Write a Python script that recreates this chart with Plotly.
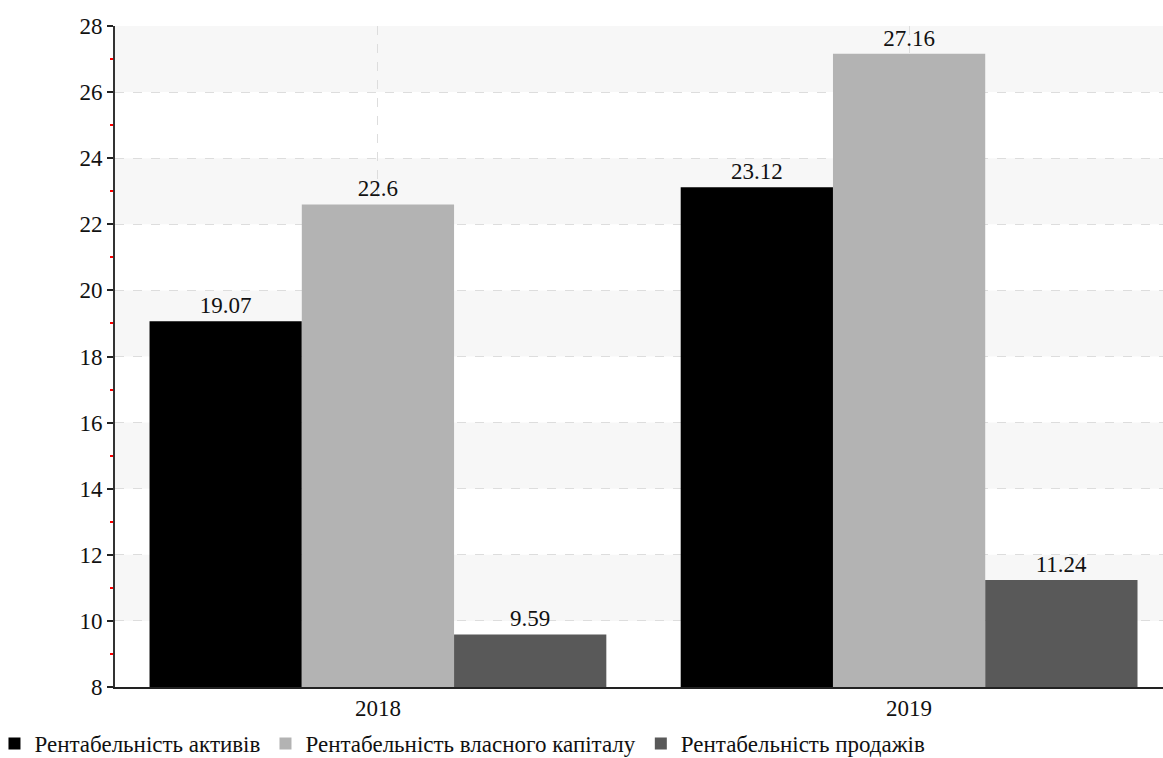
import plotly.graph_objects as go

years = ["2018", "2019"]
series_names = ["Рентабельність активів", "Рентабельність власного капіталу", "Рентабельність продажів"]
assets = [19.07, 23.12]
equity = [22.6, 27.16]
sales = [9.59, 11.24]
colors = ["#000000", "#b3b3b3", "#595959"]

FONT = "'Liberation Serif', 'Times New Roman', 'DejaVu Serif', serif"

fig = go.Figure()
xpos = list(range(len(years)))
for name, vals, col in zip(series_names, [assets, equity, sales], colors):
    fig.add_trace(go.Bar(
        x=xpos, y=vals, name=name, marker=dict(color=col, line=dict(width=0)),
        text=[f"{v:g}" for v in vals], textposition="outside",
        textfont=dict(family=FONT, size=23, color="#111"),
        cliponaxis=False,
    ))

# alternating background bands
shapes = []
for lo in range(10, 28, 4):
    shapes.append(dict(type="rect", xref="paper", yref="y", x0=0, x1=1, y0=lo, y1=lo + 2,
                       fillcolor="#f7f7f7", line=dict(width=0), layer="below"))

fig.update_layout(
    width=1163, height=758,
    margin=dict(l=115, r=0, t=26, b=71, autoexpand=False),
    paper_bgcolor="white", plot_bgcolor="white",
    barmode="group", bargap=0.14, bargroupgap=0,
    font=dict(family=FONT, size=22, color="#111"),
    shapes=shapes,
    showlegend=True,
    legend=dict(orientation="h", x=-0.115, xanchor="left", y=-0.053, yanchor="top",
                font=dict(family=FONT, size=23, color="#111"),
                itemwidth=30, tracegroupgap=0),
)
fig.update_xaxes(
    range=[-0.495, 1.478], tickvals=xpos, ticktext=years,
    showgrid=True, gridcolor="#dddddd", griddash="dash", gridwidth=1,
    showline=True, linecolor="#222", linewidth=1.5,
    ticks="", tickfont=dict(family=FONT, size=23, color="#111"),
    zeroline=False, automargin=False,
)
fig.update_yaxes(
    range=[8, 28], dtick=2, tick0=8,
    showgrid=True, gridcolor="#dddddd", griddash="dash", gridwidth=1,
    showline=True, linecolor="#333", linewidth=2,
    ticks="outside", ticklen=6, tickcolor="#222", tickwidth=2,
    tickfont=dict(family=FONT, size=23, color="#111"),
    minor=dict(dtick=2, tick0=9, ticks="outside", ticklen=3, tickcolor="red", tickwidth=2, showgrid=False),
    zeroline=False, automargin=False,
)

fig.write_html("out.html", config={"displayModeBar": False},
               post_script="document.body.style.margin='0';document.body.style.padding='0';")
